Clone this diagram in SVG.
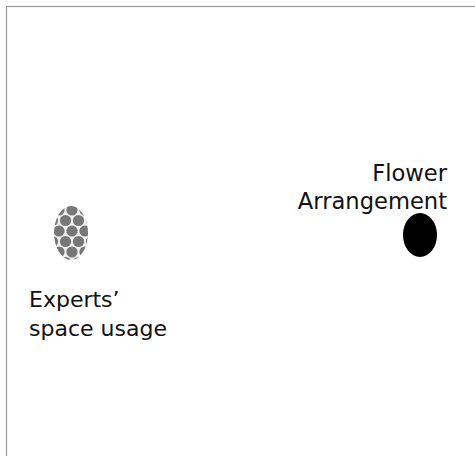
<svg xmlns="http://www.w3.org/2000/svg" width="475" height="456" viewBox="0 0 475 456">
  <style>
    .lbl { font-family: "DejaVu Sans", Verdana, sans-serif; font-size: 22px; fill: #111; }
    .dot { fill: #777; }
  </style>
  <defs>
    <pattern id="dots" x="59" y="210" width="13" height="21" patternUnits="userSpaceOnUse">
      <rect width="13" height="21" fill="#f0f0f0"/>
      <circle class="dot" cx="0" cy="0" r="5.6"/>
      <circle class="dot" cx="13" cy="0" r="5.6"/>
      <circle class="dot" cx="0" cy="21" r="5.6"/>
      <circle class="dot" cx="13" cy="21" r="5.6"/>
      <circle class="dot" cx="6.5" cy="10.5" r="5.6"/>
    </pattern>
    <filter id="soft" x="-20%" y="-20%" width="140%" height="140%">
      <feGaussianBlur stdDeviation="0.6"/>
    </filter>
  </defs>
  <rect x="6.5" y="6.5" width="480" height="460" fill="#fff" stroke="#999" stroke-width="1.2"/>
  <g id="experts">
    <ellipse cx="71" cy="233" rx="17" ry="27" fill="url(#dots)" filter="url(#soft)"/>
    <text class="lbl" x="29" y="307">Experts’</text>
    <text class="lbl" x="29" y="336">space usage</text>
  </g>
  <g id="flower">
    <ellipse cx="420" cy="235" rx="17" ry="22" fill="#000" filter="url(#soft)"/>
    <text class="lbl" x="447" y="181" text-anchor="end" style="font-size:22.6px">Flower</text>
    <text class="lbl" x="447" y="209" text-anchor="end" style="font-size:22.6px">Arrangement</text>
  </g>
  <g id="connectors"/>
</svg>
